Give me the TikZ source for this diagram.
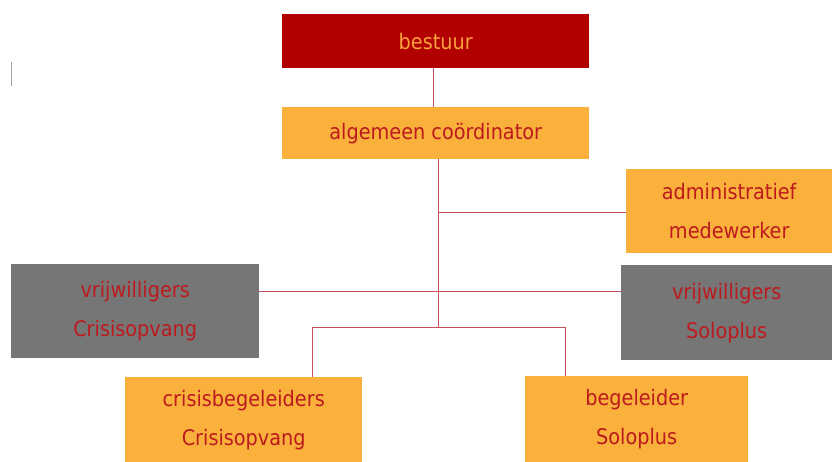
\documentclass[tikz,border=0pt]{standalone}
\usepackage{fontspec}
\setmainfont{DejaVu Sans Condensed}
\definecolor{darkred}{HTML}{B20000}
\definecolor{boxorange}{HTML}{F9B13C}
\definecolor{boxgrey}{HTML}{767676}
\definecolor{txtred}{HTML}{BC1A1E}
\definecolor{txtorange}{HTML}{F9A23A}
\definecolor{linered}{HTML}{C8505E}
\tikzset{
  orgbox/.style={rectangle, inner sep=0pt, anchor=north west, align=center, font=\fontsize{21.5}{39}\selectfont, text=txtred},
  orangebox/.style={orgbox, fill=boxorange},
  greybox/.style={orgbox, fill=boxgrey},
  topbox/.style={orgbox, fill=darkred, text=txtorange},
  conn/.style={draw=linered, line width=0.8bp}
}
\begin{document}
\begin{tikzpicture}[x=1bp,y=-1bp]
\useasboundingbox (0,0) rectangle (832,462);
\node[topbox, minimum width=307bp, minimum height=54bp] (bestuur) at (282,14) {bestuur};
\node[orangebox, minimum width=307bp, minimum height=52bp] (coord) at (282,107) {algemeen coördinator};
\node[orangebox, minimum width=206bp, minimum height=84bp] (admin) at (626,169) {administratief\\medewerker};
\node[greybox, minimum width=248bp, minimum height=94bp] (vcris) at (11,264) {vrijwilligers\\Crisisopvang};
\node[greybox, minimum width=211bp, minimum height=95bp] (vsolo) at (621,265) {vrijwilligers\\Soloplus};
\node[orangebox, minimum width=237bp, minimum height=85bp] (cbeg) at (125,377) {crisisbegeleiders\\Crisisopvang};
\node[orangebox, minimum width=223bp, minimum height=86bp] (beg) at (525,376) {begeleider\\Soloplus};
\coordinate (jadmin) at (438,212);
\coordinate (jbottom) at (438,327);
\coordinate (jleft) at (312,327);
\coordinate (jright) at (565,327);
\draw[conn] (bestuur.south -| 433,0) -- (coord.north -| 433,0);
\draw[conn] (coord.south -| jadmin) -- (jbottom);
\draw[conn] (jadmin) -- (jadmin -| admin.west);
\draw[conn] (vcris.east |- 0,291) -- (vsolo.west |- 0,291);
\draw[conn] (jleft) -- (jright);
\draw[conn] (jleft) -- (jleft |- cbeg.north);
\draw[conn] (jright) -- (jright |- beg.north);
\draw[gray!70, line width=0.8bp] (11,62) coordinate (cur1) -- (11,86) coordinate (cur2);
\end{tikzpicture}
\end{document}
